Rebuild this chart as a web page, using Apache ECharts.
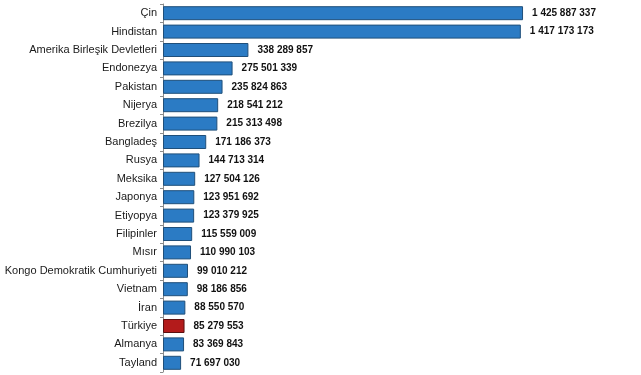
<!DOCTYPE html>
<html>
<head>
<meta charset="utf-8">
<script src="https://cdn.jsdelivr.net/npm/echarts@6/dist/echarts.min.js"></script>
<style>html,body{margin:0;padding:0;background:#fff;}#c{width:641px;height:375px;}</style>
</head>
<body>
<div id="c"></div>
<script>
const countries = ["Çin","Hindistan","Amerika Birleşik Devletleri","Endonezya","Pakistan","Nijerya","Brezilya","Bangladeş","Rusya","Meksika","Japonya","Etiyopya","Filipinler","Mısır","Kongo Demokratik Cumhuriyeti","Vietnam","İran","Türkiye","Almanya","Tayland"];
const population = [1425887337,1417173173,338289857,275501339,235824863,218541212,215313498,171186373,144713314,127504126,123951692,123379925,115559009,110990103,99010212,98186856,88550570,85279553,83369843,71697030];
const highlight = "Türkiye";

function fmt(v){ return String(v).replace(/\B(?=(\d{3})+(?!\d))/g,' '); }

const chart = echarts.init(document.getElementById('c'), null, {renderer:'canvas'});
chart.setOption({
  animation:false,
  grid:{left:163, right:74, top:4, bottom:3},
  xAxis:{type:'value', min:0, max:1600000000, show:false},
  yAxis:{
    type:'category', inverse:true, data:countries,
    axisLine:{show:true, lineStyle:{color:'#8c8c8c', width:1}},
    axisTick:{show:true, length:3, lineStyle:{color:'#8c8c8c'}},
    axisLabel:{fontFamily:'Liberation Sans, Arial, sans-serif', fontSize:11, color:'#1a1a1a', margin:6}
  },
  series:[{
    type:'bar', barWidth:14,
    data: population.map((v,i)=>({
      value:v,
      itemStyle: countries[i]===highlight ? {color:'#b31b1b', borderColor:'#5a1010', borderWidth:1} : {color:'#2b7bc4', borderColor:'#1f4f7a', borderWidth:1}
    })),
    label:{show:true, position:'right', distance:9, formatter:p=>fmt(p.value),
      fontFamily:'Liberation Sans, Arial, sans-serif', fontSize:10, fontWeight:'bold', color:'#111'}
  }]
});
</script>
</body>
</html>
